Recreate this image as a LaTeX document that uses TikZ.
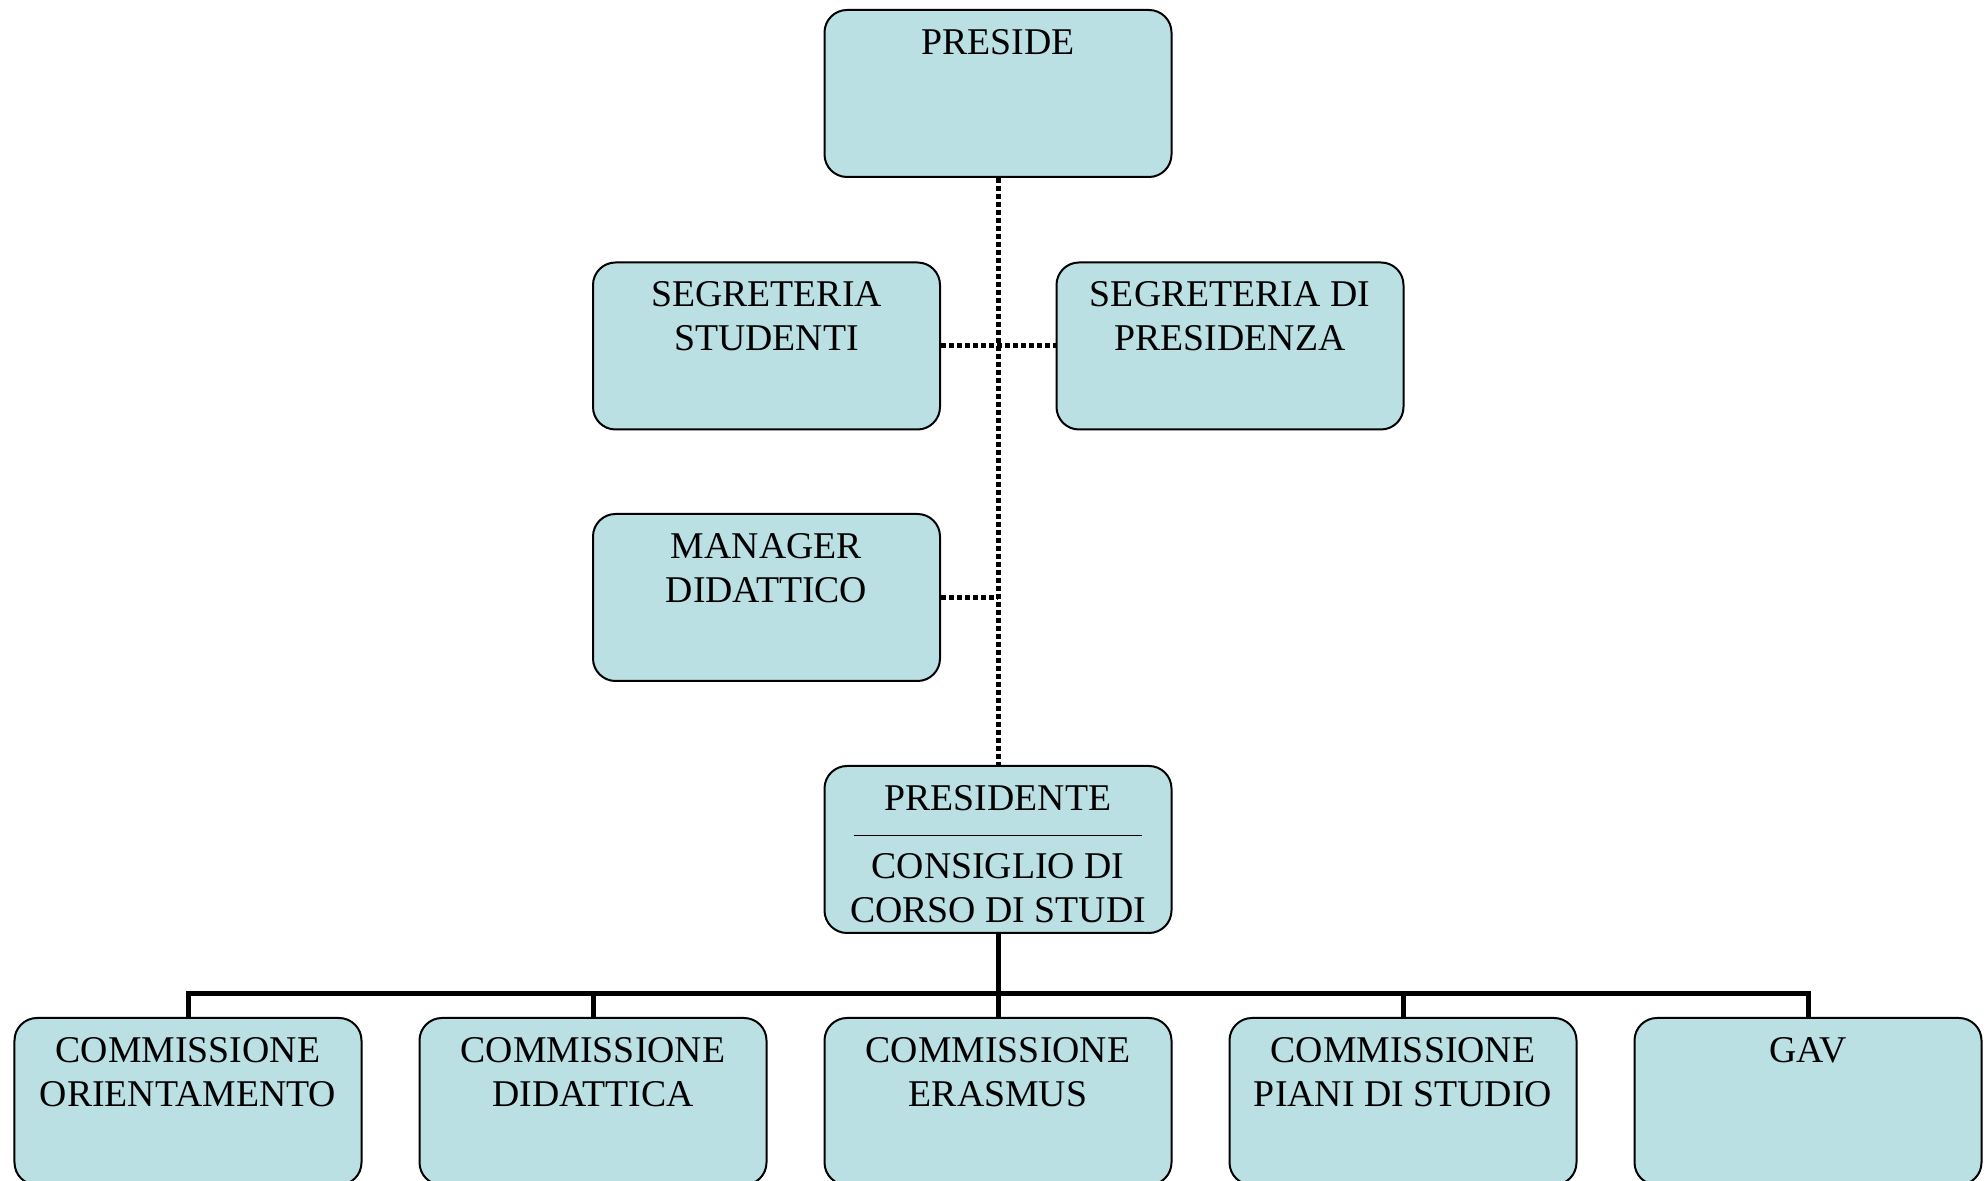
\documentclass[tikz,border=0pt]{standalone}
\usepackage{fontspec}
\setmainfont{Liberation Serif}
\definecolor{boxfill}{RGB}{186,224,227}
\tikzset{
  unit/.style={draw, line width=0.04cm, fill=boxfill, rounded corners=0.45cm,
    inner sep=0pt, text width=6.9cm, align=flush center, minimum width=6.94cm,
    text height=0.89cm, text depth=2.45cm,
    font=\fontsize{21.5pt}{25pt}\selectfont},
  link/.style={line width=0.1cm, dash pattern=on 0.095cm off 0.065cm},
  bus/.style={line width=0.1cm}
}
\begin{document}
\begin{tikzpicture}
    \useasboundingbox (0,0) rectangle (39.74,23.62);
    % vertice
    \node[unit] (preside) at (19.96,21.75) {PRESIDE};
    \node[unit] (segstud) at (15.33,16.70) {SEGRETERIA\\STUDENTI};
    \node[unit] (segpres) at (24.60,16.70) {SEGRETERIA DI\\PRESIDENZA};
    \node[unit] (manager) at (15.33,11.67) {MANAGER\\DIDATTICO};
    \node[unit] (presidente) at (19.96,6.63)
        {PRESIDENTE\\[-0.36cm]\rule{5.76cm}{0.03cm}\\[-0.04cm]CONSIGLIO DI\\CORSO DI STUDI};
    % commissioni
    \node[unit] (orient) at (3.76,1.59) {COMMISSIONE\\ORIENTAMENTO};
    \node[unit] (didat) at (11.86,1.59) {COMMISSIONE\\DIDATTICA};
    \node[unit] (erasmus) at (19.96,1.59) {COMMISSIONE\\ERASMUS};
    \node[unit] (piani) at (28.06,1.59) {COMMISSIONE\\PIANI DI STUDIO};
    \node[unit] (gav) at (36.16,1.59) {GAV};
    % linee tratteggiate
    \draw[link] (preside.south) -- (presidente.north);
    \draw[link] (segstud.east) -- (segpres.west);
    \draw[link] (manager.east) -- (manager.east -| preside.south);
    % linee continue
    \foreach \n in {orient,didat,erasmus,piani,gav}
        \draw[bus] (presidente.south) |- ([yshift=0.46cm]\n.north) -- (\n.north);
\end{tikzpicture}
\end{document}
